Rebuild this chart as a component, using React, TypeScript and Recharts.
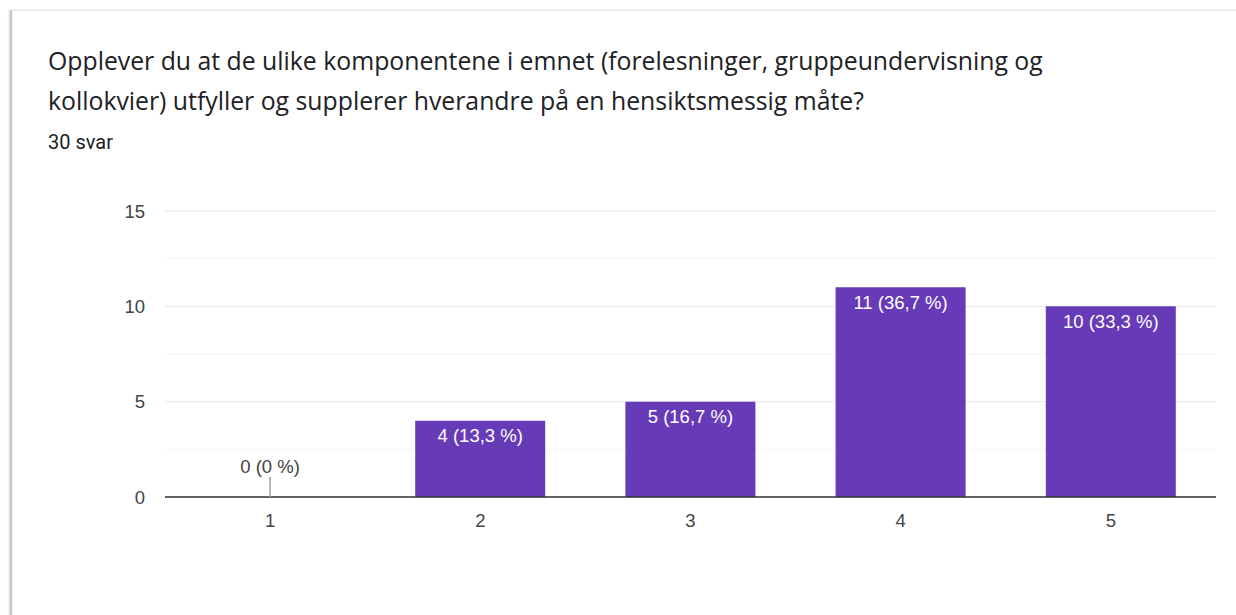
import { ComposedChart, Bar, Line, XAxis, YAxis, CartesianGrid, LabelList } from "recharts";

const titleLines = [
    "Opplever du at de ulike komponentene i emnet (forelesninger, gruppeundervisning og",
    "kollokvier) utfyller og supplerer hverandre på en hensiktsmessig måte?",
];
const categories = ["1", "2", "3", "4", "5"];
const counts = [0, 4, 5, 11, 10];
const yTicks = [0, 5, 10, 15];
const minorLines = [2.5, 7.5, 12.5];

const total = counts.reduce((a, b) => a + b, 0);
const data = categories.map((c, i) => ({ name: c, value: counts[i] }));

const labelFont = "'Liberation Sans', Arial, sans-serif";

const pct = (v: number) => {
    const p = (v / total) * 100;
    const s = Number.isInteger(p) ? String(p) : p.toFixed(1).replace(".", ",");
    return `${v} (${s} %)`;
};

// label inside the top of each bar
const BarLabel = (props: any) => {
    const { x, y, width, value } = props;
    if (!value) return null;
    return (
        <text x={x + width / 2} y={y + 15} textAnchor="middle" dominantBaseline="central" fill="#fff" fontSize={18.5} fontFamily={labelFont}>
            {pct(value)}
        </text>
    );
};

// zero values get a small stub line with the label above it
const ZeroLabel = (props: any) => {
    const { x, y, value } = props;
    if (value !== 0) return null;
    return (
        <g>
            <line x1={x} x2={x} y1={y - 20} y2={y} stroke="#9e9e9e" strokeWidth={1.5} />
            <text x={x} y={y - 31} textAnchor="middle" dominantBaseline="central" fill="#444" fontSize={18.5} fontFamily={labelFont}>
                {pct(value)}
            </text>
        </g>
    );
};

const minorGen = (args: any) => {
    const { yAxis, offset } = args;
    if (yAxis && typeof yAxis.scale === "function") return minorLines.map((v) => yAxis.scale(v));
    return minorLines.map((v) => offset.top + offset.height * (1 - v / 15));
};

export default function App() {
    return (
        <div style={{ position: "absolute", left: 0, top: 0, width: 1236, height: 615, background: "#fff", overflow: "hidden" }}>
            <div
                style={{
                    position: "absolute",
                    left: 10,
                    top: 10,
                    width: 1240,
                    height: 620,
                    borderLeft: "2px solid #c4c4c4",
                    borderTop: "1px solid #e6e6e6",
                    boxShadow: "-1px 0 2px rgba(0,0,0,0.15)",
                }}
            />
            <div style={{ position: "absolute", left: 48, top: 40, fontFamily: "'Open Sans', sans-serif", fontSize: 24.8, color: "#202124", lineHeight: "40px", whiteSpace: "nowrap" }}>
                {titleLines.map((t) => (
                    <div key={t}>{t}</div>
                ))}
            </div>
            <div style={{ position: "absolute", left: 48, top: 130, fontFamily: "Roboto, sans-serif", fontSize: 20, color: "#202124" }}>
                {total} svar
            </div>
            <div style={{ position: "absolute", left: 0, top: 190 }}>
                <ComposedChart width={1236} height={360} data={data} margin={{ top: 21, right: 20, bottom: 23, left: 0 }} barCategoryGap={40}>
                    <CartesianGrid vertical={false} stroke="#f4f4f4" horizontalCoordinatesGenerator={minorGen} />
                    <CartesianGrid vertical={false} stroke="#e8e8e8" />
                    <XAxis
                        dataKey="name"
                        height={30}
                        tickLine={false}
                        tickSize={0}
                        tickMargin={17}
                        axisLine={{ stroke: "#333", strokeWidth: 1.5 }}
                        tick={{ fill: "#444", fontSize: 18.5, fontFamily: labelFont }}
                    />
                    <YAxis
                        width={165}
                        domain={[0, 15]}
                        ticks={yTicks}
                        tickLine={false}
                        axisLine={false}
                        tickSize={0}
                        tickMargin={20}
                        tick={{ fill: "#444", fontSize: 18.5, fontFamily: labelFont }}
                    />
                    <Bar dataKey="value" fill="#673ab7" isAnimationActive={false}>
                        <LabelList dataKey="value" content={BarLabel} />
                    </Bar>
                    <Line dataKey="value" stroke="none" dot={false} activeDot={false} isAnimationActive={false}>
                        <LabelList dataKey="value" content={ZeroLabel} />
                    </Line>
                </ComposedChart>
            </div>
        </div>
    );
}
